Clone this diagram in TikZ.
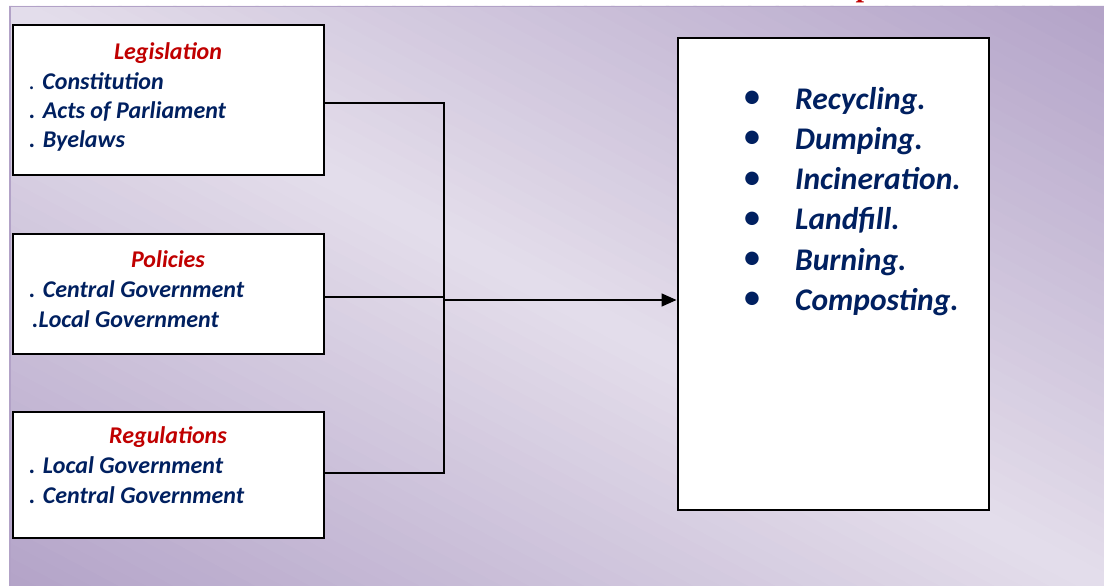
\documentclass[tikz,border=0pt]{standalone}
\usepackage{fontspec}
\setmainfont{Carlito}
\newfontfamily\headserif{Liberation Serif}
\usetikzlibrary{arrows.meta}
\definecolor{lavdark}{HTML}{B3A3C8}
\definecolor{lavlight}{HTML}{E4DEEB}
\definecolor{lavedge}{HTML}{B2A2C7}
\definecolor{headred}{HTML}{C00000}
\definecolor{itemblue}{HTML}{002060}

\begin{document}
\begin{tikzpicture}[x=1pt, y=-1pt,
  srcbox/.style={draw=black, line width=2pt, fill=white, inner sep=0pt},
  boxtitle/.style={anchor=base, inner sep=0pt, text=headred, font=\fontsize{24}{29}\selectfont\bfseries\itshape},
  boxitem/.style={anchor=base west, inner sep=0pt, text=itemblue, font=\fontsize{24}{29}\selectfont\bfseries\itshape},
  listitem/.style={anchor=base west, inner sep=0pt, text=itemblue, font=\fontsize{31.5}{40}\selectfont\bfseries\itshape},
  listbullet/.style={inner sep=0pt, text=itemblue, font=\fontsize{38}{38}\selectfont},
  link/.style={line width=1.6pt},
]
\useasboundingbox (0,0) rectangle (1104,586);
\clip (0,0) rectangle (1104,586);
\fill[white] (0,0) rectangle (1104,586);
% background: light along the main diagonal, darker towards the other corners
\begin{scope}
\clip (9,6) rectangle (1104,586);
\foreach \k in {0,...,79}{
  \pgfmathsetmacro{\ca}{-1+\k/40}
  \pgfmathsetmacro{\cb}{-1+(\k+1)/40+0.003}
  \pgfmathsetmacro{\mix}{100-100*abs(\ca+0.0125)}
  \fill[lavlight!\mix!lavdark] ({9+1095*\ca},6) -- ({9+1095*\cb},6) -- ({9+1095*(\cb+1)},586) -- ({9+1095*(\ca+1)},586) -- cycle;
}
\end{scope}
\draw[lavedge, line width=1.5pt] (9.75,586) -- (9.75,6.75) -- (1104,6.75);
\node[anchor=base west, inner sep=0pt, text=headred, font=\headserif\fontsize{30}{30}\selectfont\bfseries\itshape] (cut) at (858,-3) {p};

% the three sources
\node[srcbox, minimum width=311, minimum height=149] (legis) at (168,100) {};
\node[srcbox, minimum width=311, minimum height=120] (policy) at (168,293.5) {};
\node[srcbox, minimum width=311, minimum height=126] (regul) at (168,474.5) {};
\node[srcbox, minimum width=311, minimum height=471] (methods) at (833,274) {};

\node[boxtitle] (legtitle) at (168,60) {Legislation};
\node[boxitem] (leg1) at (29,89) {{\mdseries.} Constitution};
\node[boxitem] (leg2) at (29,118) {. Acts of Parliament};
\node[boxitem] (leg3) at (29,147) {. Byelaws};

\node[boxtitle] (poltitle) at (168,267) {Policies};
\node[boxitem] (pol1) at (29,297) {. Central Government};
\node[boxitem] (pol2) at (32,327) {.Local Government};

\node[boxtitle] (regtitle) at (168,443) {Regulations};
\node[boxitem] (reg1) at (29,473) {. Local Government};
\node[boxitem] (reg2) at (29,503) {. Central Government};

% disposal list
\foreach \word [count=\i] in {Recycling., Dumping., Incineration., Landfill., Burning., Composting.}{
  \node[listitem] (m\i) at (795,{69+40.2*\i}) {\word};
  \node[listbullet] (b\i) at (752,{59.8+40.2*\i}) {•};
}

% connectors
\coordinate (jtop) at (444,103);
\coordinate (jpol) at (444,297);
\coordinate (jmid) at (444,300);
\coordinate (jbot) at (444,473);
\draw[link] ([yshift=-3pt]legis.east) -- (jtop) -- (jbot) -- ([yshift=1.5pt]regul.east);
\draw[link] ([yshift=-3.5pt]policy.east) -- (jpol);
\draw[link, -{Triangle[length=15pt, width=13pt]}] (jmid) -- (jmid -| methods.west);
\end{tikzpicture}
\end{document}
